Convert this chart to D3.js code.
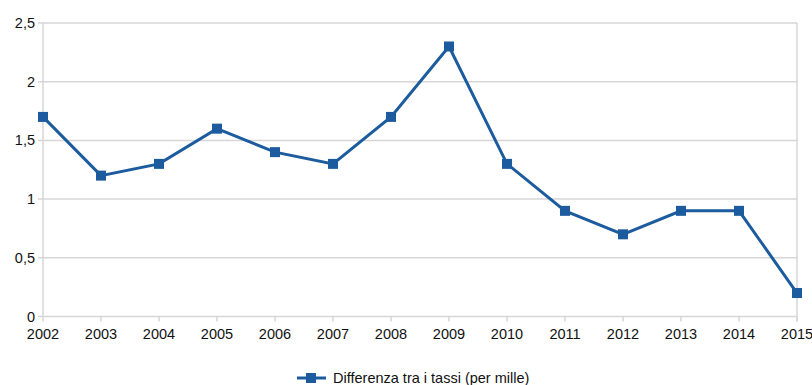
<!DOCTYPE html>
<html><head><meta charset="utf-8">
<script src="https://cdn.jsdelivr.net/npm/d3@7"></script>
<style>body{margin:0;background:#fff;}svg{display:block;font-family:"Liberation Sans",Arial,sans-serif;}</style>
</head><body>
<svg id="c" width="812" height="385"></svg>
<script>
const years = ["2002","2003","2004","2005","2006","2007","2008","2009","2010","2011","2012","2013","2014","2015"];
const values = [1.7,1.2,1.3,1.6,1.4,1.3,1.7,2.3,1.3,0.9,0.7,0.9,0.9,0.2];
const yTicks = [0,0.5,1,1.5,2,2.5];
const seriesName = "Differenza tra i tassi (per mille)";

const svg = d3.select("#c");
const L=43,R=797,T=23,B=316.5;
const x = d3.scalePoint().domain(years).range([L,R]);
const y = d3.scaleLinear().domain([0,2.5]).range([B,T]);
const fmt = d => String(d).replace(".",",");
const grid="#d6d6d6", col="#1c5c9e";
const fs = 14.5;

svg.append("g").selectAll("line").data(yTicks).join("line")
  .attr("x1",L-5).attr("x2",R).attr("y1",d=>y(d)).attr("y2",d=>y(d))
  .attr("stroke",grid).attr("stroke-width",1.5);
svg.append("line").attr("x1",L).attr("x2",L).attr("y1",T).attr("y2",B).attr("stroke",grid).attr("stroke-width",1.5);
svg.append("line").attr("x1",R).attr("x2",R).attr("y1",T).attr("y2",B+5).attr("stroke",grid).attr("stroke-width",1.5);
svg.append("g").selectAll("line").data(years).join("line")
  .attr("x1",d=>x(d)).attr("x2",d=>x(d)).attr("y1",B).attr("y2",B+5)
  .attr("stroke",grid).attr("stroke-width",1.5);
svg.append("g").selectAll("text").data(yTicks).join("text")
  .attr("x",L-8).attr("y",d=>y(d)).attr("dy","0.35em").attr("text-anchor","end")
  .attr("font-size",fs).attr("fill","#111").text(fmt);
svg.append("g").selectAll("text").data(years).join("text")
  .attr("x",d=>x(d)).attr("y",B+22).attr("text-anchor","middle")
  .attr("font-size",fs).attr("fill","#111").text(d=>d);

const pts = years.map((yr,i)=>({yr,v:values[i]}));
svg.append("path").datum(pts)
  .attr("d",d3.line().x(d=>x(d.yr)).y(d=>y(d.v)))
  .attr("fill","none").attr("stroke",col).attr("stroke-width",3);
svg.append("g").selectAll("rect").data(pts).join("rect")
  .attr("x",d=>x(d.yr)-5).attr("y",d=>y(d.v)-5).attr("width",10).attr("height",10)
  .attr("fill",col);

const lg = svg.append("g");
lg.append("line").attr("x1",297).attr("x2",326).attr("y1",378).attr("y2",378).attr("stroke",col).attr("stroke-width",3);
lg.append("rect").attr("x",306).attr("y",373).attr("width",10).attr("height",10).attr("fill",col);
lg.append("text").attr("x",333).attr("y",378).attr("dy","0.35em").attr("font-size",fs).attr("fill","#111").text(seriesName);
</script>
</body></html>
